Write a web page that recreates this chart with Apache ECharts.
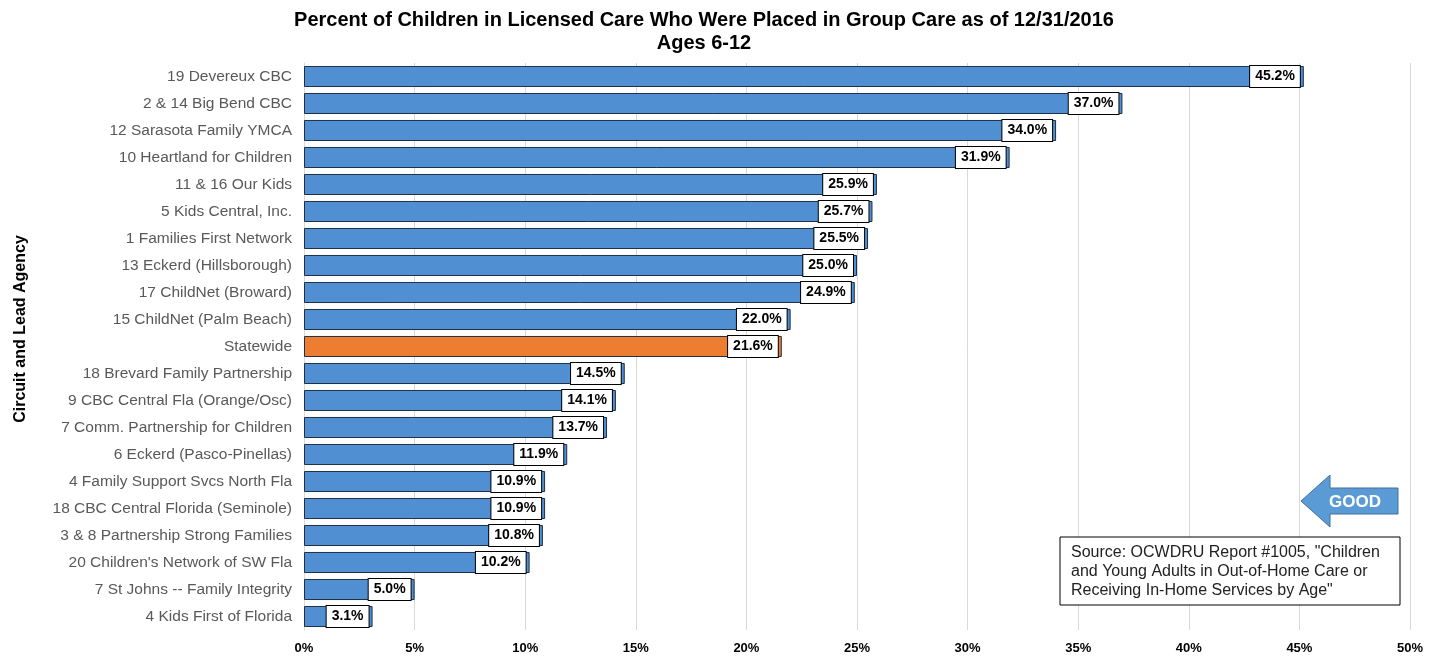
<!DOCTYPE html>
<html>
<head>
<meta charset="utf-8">
<script src="https://cdn.jsdelivr.net/npm/echarts@6/dist/echarts.min.js"></script>
<style>html,body{margin:0;padding:0;background:#fff;}#c{width:1439px;height:657px;}</style>
</head>
<body>
<div id="c"></div>
<script>
const categories = [
  "19 Devereux CBC",
  "2 & 14 Big Bend CBC",
  "12 Sarasota Family YMCA",
  "10 Heartland for Children",
  "11 & 16 Our Kids",
  "5 Kids Central, Inc.",
  "1 Families First Network",
  "13 Eckerd (Hillsborough)",
  "17 ChildNet (Broward)",
  "15 ChildNet (Palm Beach)",
  "Statewide",
  "18 Brevard Family Partnership",
  "9 CBC Central Fla (Orange/Osc)",
  "7 Comm. Partnership for Children",
  "6 Eckerd (Pasco-Pinellas)",
  "4 Family Support Svcs North Fla",
  "18 CBC Central Florida (Seminole)",
  "3 & 8 Partnership Strong Families",
  "20 Children's Network of SW Fla",
  "7 St Johns -- Family Integrity",
  "4 Kids First of Florida"
];
const values = [45.2, 37.0, 34.0, 31.9, 25.9, 25.7, 25.5, 25.0, 24.9, 22.0, 21.6, 14.5, 14.1, 13.7, 11.9, 10.9, 10.9, 10.8, 10.2, 5.0, 3.1];
const highlight = "Statewide";
const titleLines = ["Percent of Children in Licensed Care Who Were Placed in Group Care as of 12/31/2016", "Ages 6-12"];
const yAxisTitle = "Circuit and Lead Agency";
const sourceText = "Source: OCWDRU Report #1005, \"Children\nand Young Adults in Out-of-Home Care or\nReceiving In-Home Services by Age\"";

const chart = echarts.init(document.getElementById('c'), null, {renderer: 'canvas'});
const FONT = '"Liberation Sans", Arial, sans-serif';
chart.setOption({
  animation: false,
  backgroundColor: '#fff',
  title: {
    text: titleLines.join('\n'),
    left: 699, top: 4, textAlign: 'center',
    textStyle: {fontFamily: FONT, fontSize: 20, fontWeight: 'bold', color: '#000', lineHeight: 23}
  },
  grid: {left: 304, right: 29, top: 63, bottom: 27},
  xAxis: {
    type: 'value', min: 0, max: 50, interval: 5,
    axisLabel: {formatter: '{value}%', fontFamily: FONT, fontSize: 13, fontWeight: 'bold', color: '#000', margin: 12},
    splitLine: {show: true, lineStyle: {color: '#d9d9d9', width: 1}},
    axisLine: {show: false}, axisTick: {show: false}
  },
  yAxis: {
    type: 'category', data: categories, inverse: true,
    axisLabel: {fontFamily: FONT, fontSize: 15.5, color: '#595959', margin: 12},
    axisLine: {show: true, lineStyle: {color: '#d9d9d9'}}, axisTick: {show: false}
  },
  series: [{
    type: 'bar',
    barCategoryGap: '22%',
    data: values.map((v, i) => ({
      value: v,
      itemStyle: {color: categories[i] === highlight ? '#ed7d31' : '#4f8fd2'}
    })),
    itemStyle: {borderColor: '#1f2f45', borderWidth: 1},
    label: {
      show: true, position: 'insideRight', distance: 4,
      formatter: p => p.value.toFixed(1) + '%',
      fontFamily: FONT, fontSize: 14, fontWeight: 'bold', color: '#000', lineHeight: 14,
      backgroundColor: '#fff', borderColor: '#000', borderWidth: 1,
      padding: [4, 5, 3, 5]
    }
  }],
  graphic: [
    {
      type: 'text', x: 21, y: 329, rotation: Math.PI / 2, z: 100,
      style: {text: yAxisTitle, fill: '#000', font: 'bold 16px ' + FONT, align: 'center', verticalAlign: 'middle'}
    },
    {
      type: 'polygon', z: 100,
      shape: {points: [[1301, 501], [1330, 475], [1330, 488], [1398, 488], [1398, 514], [1330, 514], [1330, 527]]},
      style: {fill: '#5b9bd5', stroke: '#41719c', lineWidth: 1}
    },
    {
      type: 'text', x: 1355, y: 502, z: 101,
      style: {text: 'GOOD', fill: '#fff', font: 'bold 17px ' + FONT, align: 'center', verticalAlign: 'middle'}
    },
    {
      type: 'rect', z: 100, shape: {x: 1060, y: 537, width: 340, height: 68},
      style: {fill: '#fff', stroke: '#000', lineWidth: 1}
    },
    {
      type: 'text', x: 1071, y: 543, z: 101,
      style: {text: sourceText, fill: '#222', font: '16px ' + FONT, lineHeight: 19}
    }
  ]
});
</script>
</body>
</html>
